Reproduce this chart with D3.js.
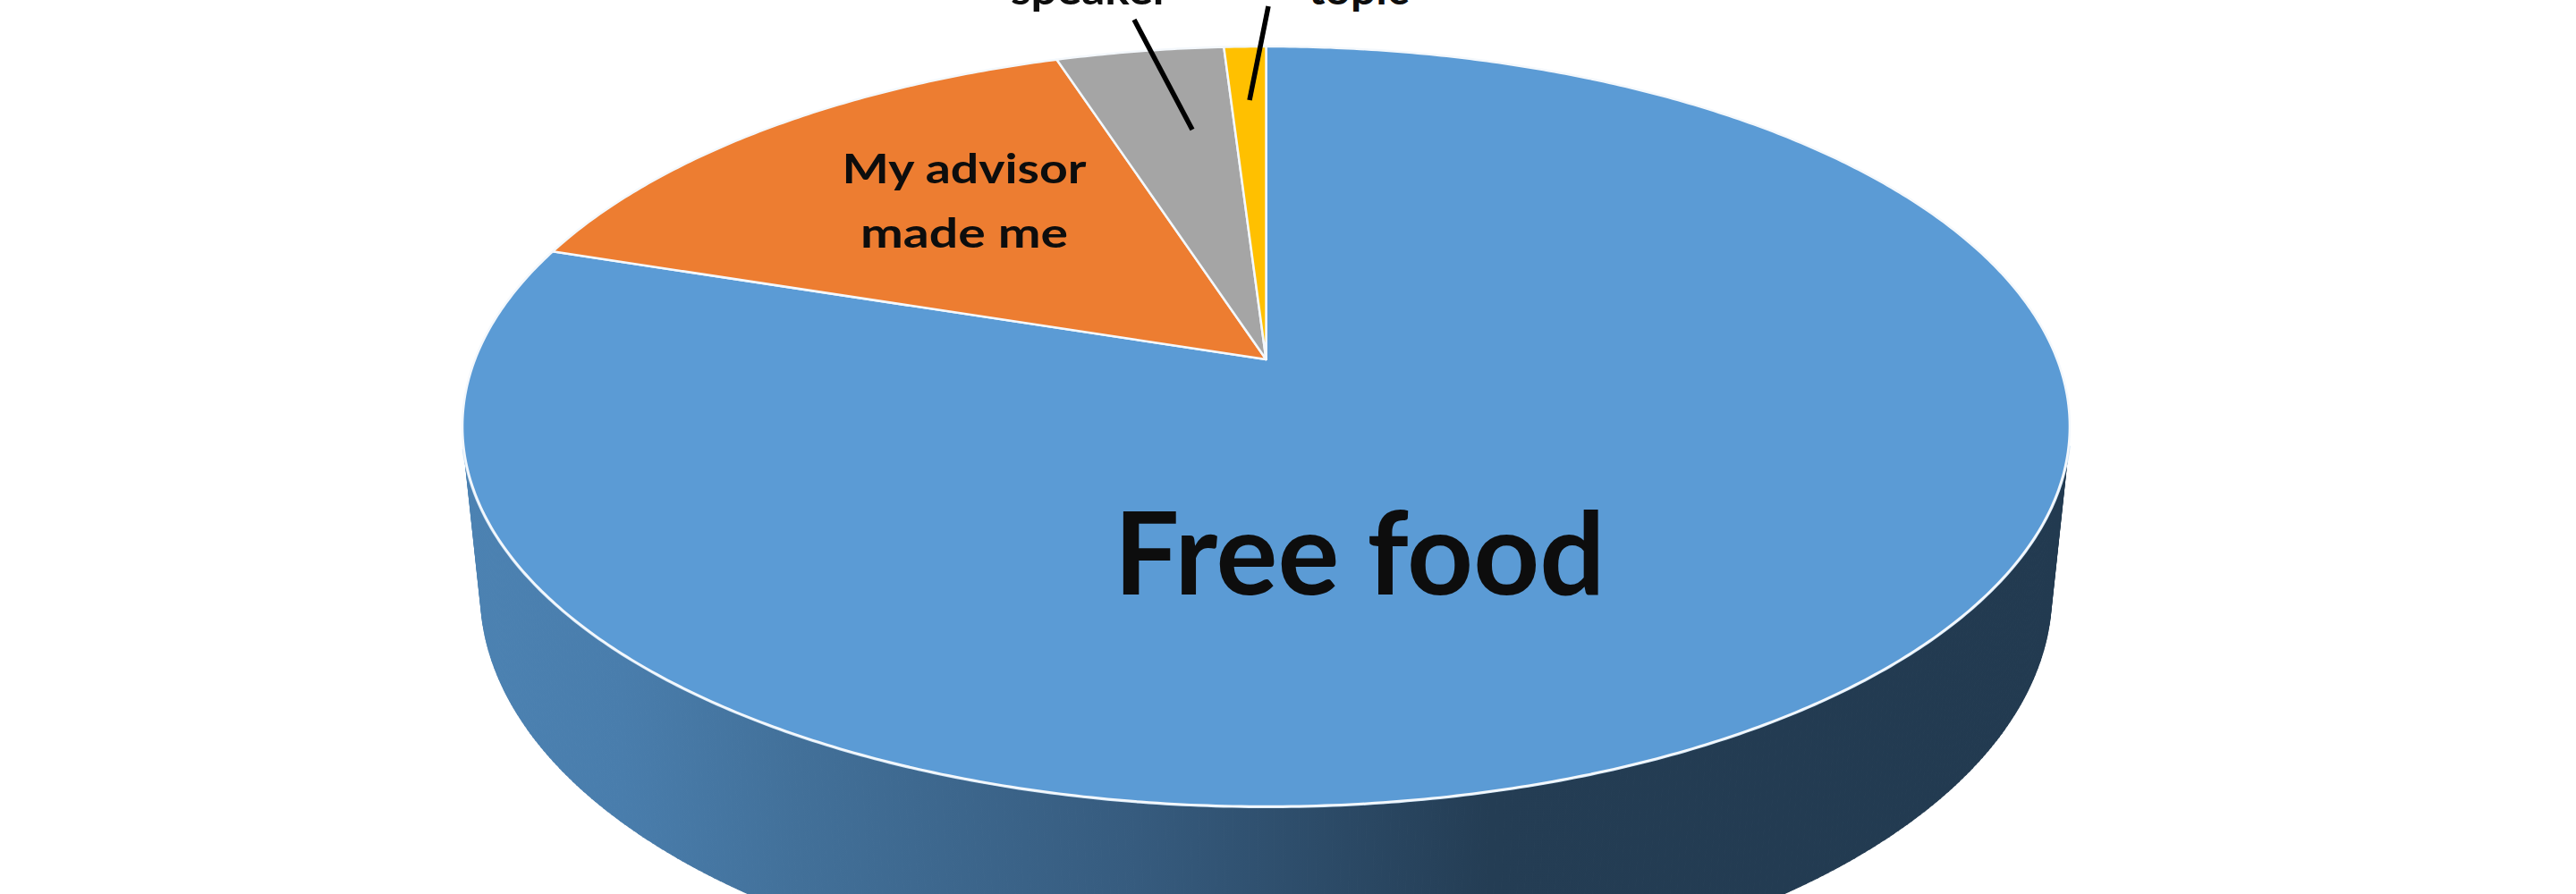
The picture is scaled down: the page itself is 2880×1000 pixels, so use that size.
<!DOCTYPE html>
<html>
<head>
<meta charset="utf-8">
<script src="https://cdn.jsdelivr.net/npm/d3@7"></script>
<style>
html,body{margin:0;padding:0;background:#ffffff;overflow:hidden}
svg{display:block}
text{font-family:Lato,"Open Sans","Noto Sans",sans-serif;font-weight:700;fill:#0d0d0d}
</style>
</head>
<body>
<svg id="chart" width="2880" height="1000"></svg>
<script>
// ---- data ----
const categories = ["Free food", "My advisor made me", "speaker", "topic"];
const values = [80, 15, 4, 1];
const colors = ["#5B9BD5", "#ED7D31", "#A5A5A5", "#FFC000"];
const labelLines = [["Free food"], ["My advisor", "made me"], ["speaker"], ["topic"]];

// ---- layout (3D perspective view of a unit-radius pie) ----
const view = {cx: 1415.5, cy: 402, f: 4435, d: 5.015, phi: 27.75 * Math.PI / 180, depth: 0.24};
const sinP = Math.sin(view.phi), cosP = Math.cos(view.phi);

// label layout: centre x, first baseline, font size, line gap, textLength per line
const labelLayout = [
  {x: 1520, y: 665, size: 128, gap: 0, widths: [549]},
  {x: 1078, y: 205, size: 46, gap: 72, widths: [273, 232]},
  {x: 1219, y: 5, size: 46, gap: 0, widths: [178]},
  {x: 1519, y: 5, size: 46, gap: 0, widths: [112]}
];
const leaders = [null, null, [[1268, 22], [1333, 145]], [[1418, 7], [1397, 112]]];

// world: X right, Y away from viewer, Z up. theta clockwise from 12 o'clock (d3 convention)
function project(r, theta, z) {
  const X = r * Math.sin(theta), Y = r * Math.cos(theta), Z = z;
  const dep = view.d + Y * cosP - Z * sinP;
  const w = Y * sinP + Z * cosP;
  return [view.cx + view.f * X / dep, view.cy - view.f * w / dep];
}

const svg = d3.select("#chart");
const defs = svg.append("defs");

const pie = d3.pie().sort(null).value(d => d)(values);
const deg = Math.PI / 180;
const step = 0.5 * deg;

// side gradients (horizontal shading, lighter on the left)
const xLeft = view.cx - 898, xRight = view.cx + 898;
const shadeStops = [[0, 0.5], [0.1, 0.6], [0.21, 0.92], [0.42, 1.48], [0.55, 2.1], [0.64, 2.6], [1, 2.75]];
colors.forEach((c, i) => {
  const g = defs.append("linearGradient").attr("id", "side" + i)
    .attr("gradientUnits", "userSpaceOnUse")
    .attr("x1", xLeft).attr("x2", xRight).attr("y1", 0).attr("y2", 0);
  shadeStops.forEach(([o, k]) => {
    g.append("stop").attr("offset", o).attr("stop-color", d3.color(c).darker(k).formatHex());
  });
});

// visible range of the cylinder wall
const thetaS = Math.acos(-1 / (view.d * cosP));
const visFrom = thetaS, visTo = 2 * Math.PI - thetaS;

const sideG = svg.append("g");
pie.forEach((p, i) => {
  const a0 = Math.max(p.startAngle, visFrom), a1 = Math.min(p.endAngle, visTo);
  if (a1 <= a0) return;
  const n = Math.max(1, Math.ceil((a1 - a0) / step));
  for (let k = 0; k < n; k++) {
    const t0 = a0 + (a1 - a0) * k / n, t1 = a0 + (a1 - a0) * (k + 1) / n;
    const pts = [project(1, t0, 0), project(1, t1, 0), project(1, t1, -view.depth), project(1, t0, -view.depth)];
    sideG.append("path")
      .attr("d", d3.line()(pts) + "Z")
      .attr("fill", "url(#side" + i + ")")
      .attr("stroke", "url(#side" + i + ")")
      .attr("stroke-width", 1.2);
  }
});

// front rim highlight
const rimPts = d3.range(visFrom, visTo + 1e-9, step).map(t => project(1, t, 0));
svg.append("path").attr("d", d3.line()(rimPts))
  .attr("fill", "none").attr("stroke", "#cfe4f6").attr("stroke-width", 4);

// top face slices
const topG = svg.append("g");
pie.forEach((p, i) => {
  const n = Math.max(2, Math.ceil((p.endAngle - p.startAngle) / step));
  const pts = [project(0, 0, 0)];
  for (let k = 0; k <= n; k++) {
    const t = p.startAngle + (p.endAngle - p.startAngle) * k / n;
    pts.push(project(1, t, 0));
  }
  topG.append("path")
    .attr("d", d3.line()(pts) + "Z")
    .attr("fill", colors[i])
    .attr("stroke", "#f4f8fc")
    .attr("stroke-width", 2.5)
    .attr("stroke-linejoin", "round");
});

// leader lines
leaders.forEach(l => {
  if (!l) return;
  svg.append("line")
    .attr("x1", l[0][0]).attr("y1", l[0][1]).attr("x2", l[1][0]).attr("y2", l[1][1])
    .attr("stroke", "#000").attr("stroke-width", 5.5);
});

// labels
labelLines.forEach((lines, i) => {
  const L = labelLayout[i];
  lines.forEach((s, j) => {
    svg.append("text")
      .attr("x", L.x).attr("y", L.y + j * L.gap)
      .attr("text-anchor", "middle")
      .attr("font-size", L.size)
      .attr("textLength", L.widths[j])
      .attr("lengthAdjust", "spacingAndGlyphs")
      .text(s);
  });
});
</script>
</body>
</html>
